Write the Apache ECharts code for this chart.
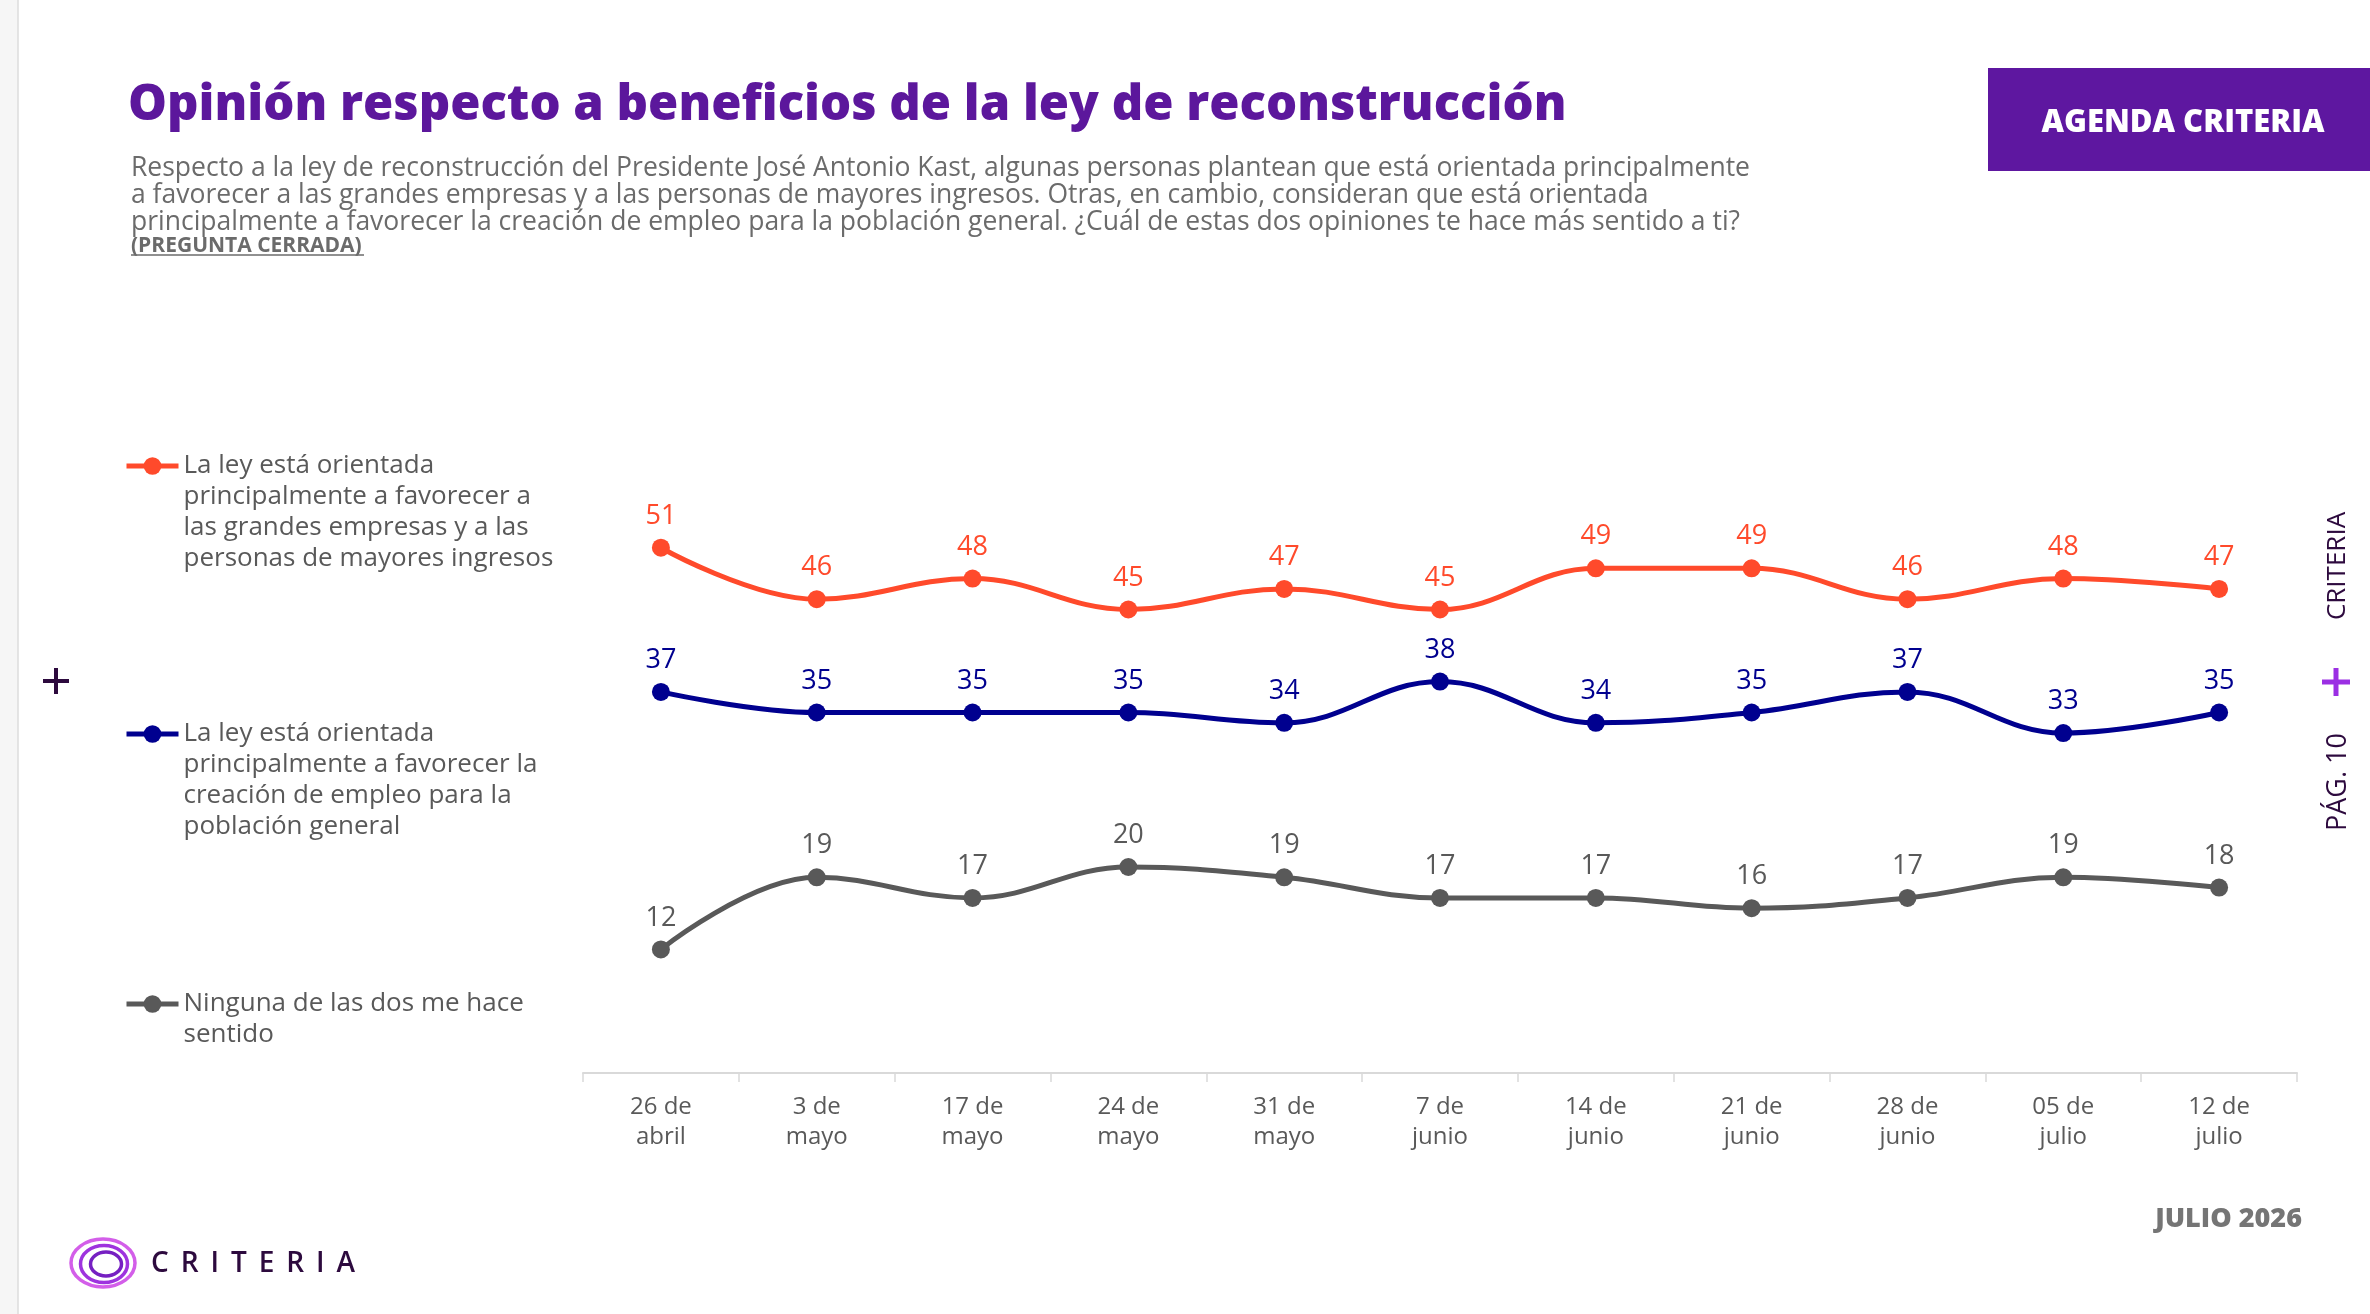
<!DOCTYPE html>
<html>
<head>
<meta charset="utf-8">
<script src="https://cdn.jsdelivr.net/npm/echarts@6/dist/echarts.min.js"></script>
<style>
  html, body { margin: 0; padding: 0; background: #fff; }
  #main { width: 2370px; height: 1314px; }
</style>
</head>
<body>
<div id="main"></div>
<script>
var categories = ['26 de\nabril', '3 de\nmayo', '17 de\nmayo', '24 de\nmayo', '31 de\nmayo', '7 de\njunio',
	'14 de\njunio', '21 de\njunio', '28 de\njunio', '05 de\njulio', '12 de\njulio'];
var empresas = [51, 46, 48, 45, 47, 45, 49, 49, 46, 48, 47];
var empleo = [37, 35, 35, 35, 34, 38, 34, 35, 37, 33, 35];
var ninguna = [12, 19, 17, 20, 19, 17, 17, 16, 17, 19, 18];

var nombres = [
	'La ley está orientada principalmente a favorecer a las grandes empresas y a las personas de mayores ingresos',
	'La ley está orientada principalmente a favorecer la creación de empleo para la población general',
	'Ninguna de las dos me hace sentido'
];
var nombresLegend = [
	'La ley está orientada\nprincipalmente a favorecer a\nlas grandes empresas y a las\npersonas de mayores ingresos',
	'La ley está orientada\nprincipalmente a favorecer la\ncreación de empleo para la\npoblación general',
	'Ninguna de las dos me hace\nsentido'
];
var colores = ['#ff4a2b', '#00008f', '#595959'];

var FONT = "'Open Sans', sans-serif";
var LH = 31;

var myChart = echarts.init(document.getElementById('main'));

// legend: one component per series; blank lines in front keep the icon on the first text line
function leyenda(i, iconY) {
	var n = nombresLegend[i].split('\n').length;
	var h = (2 * n - 1) * LH;
	var pre = new Array(n).join('\n');
	return {
		data: [nombres[i]],
		left: 124,
		top: iconY - h / 2,
		padding: 0,
		itemWidth: 52,
		itemHeight: 22,
		selectedMode: false,
		lineStyle: { width: 5 },
		formatter: function () { return pre + nombresLegend[i]; },
		textStyle: {
			fontFamily: FONT,
			fontSize: 26,
			color: '#595959',
			lineHeight: LH
		}
	};
}

function serie(i, data) {
	return {
		name: nombres[i],
		type: 'line',
		data: data,
		smooth: 0.4,
		symbol: 'circle',
		symbolSize: 18,
		showAllSymbol: true,
		color: colores[i],
		lineStyle: { width: 5, color: colores[i] },
		itemStyle: { color: colores[i] },
		label: {
			show: true,
			position: 'top',
			distance: 9,
			fontFamily: FONT,
			fontWeight: 500,
			fontSize: 27,
			color: colores[i]
		}
	};
}

var option = {
	backgroundColor: '#fff',
	animation: false,
	title: [
		{
			text: 'Opinión respecto a beneficios de la ley de reconstrucción',
			left: 128,
			top: 80,
			padding: 0,
			textStyle: {
				fontFamily: FONT,
				fontWeight: 800,
				fontSize: 49,
				lineHeight: 52,
				color: '#5c179c'
			}
		},
		{
			text: 'Respecto a la ley de reconstrucción del Presidente José Antonio Kast, algunas personas plantean que está orientada principalmente\n' +
				'a favorecer a las grandes empresas y a las personas de mayores ingresos. Otras, en cambio, consideran que está orientada\n' +
				'principalmente a favorecer la creación de empleo para la población general. ¿Cuál de estas dos opiniones te hace más sentido a ti?',
			left: 131,
			top: 155,
			padding: 0,
			textStyle: {
				fontFamily: FONT,
				fontWeight: 'normal',
				fontSize: 26.5,
				lineHeight: 27,
				color: '#6b6b6b'
			}
		},
		{
			text: '(PREGUNTA CERRADA)',
			left: 131,
			top: 235,
			padding: 0,
			textStyle: {
				fontFamily: FONT,
				fontWeight: 'bold',
				fontSize: 21,
				lineHeight: 22,
				color: '#6b6b6b'
			}
		}
	],
	legend: [leyenda(0, 466), leyenda(1, 734), leyenda(2, 1004)],
	grid: {
		left: 583,
		right: 73,
		top: 455,
		bottom: 241
	},
	xAxis: {
		type: 'category',
		data: categories,
		boundaryGap: true,
		axisLine: { lineStyle: { color: '#d9d9d9', width: 2 } },
		axisTick: { show: true, length: 9, lineStyle: { color: '#d9d9d9', width: 1.5 } },
		axisLabel: {
			fontFamily: FONT,
			fontSize: 24,
			lineHeight: 30,
			color: '#595959',
			margin: 19
		}
	},
	yAxis: {
		type: 'value',
		min: 0,
		max: 60,
		show: false,
		splitLine: { show: false }
	},
	series: [serie(0, empresas), serie(1, empleo), serie(2, ninguna)],
	graphic: [
		{ type: 'rect', shape: { x: 0, y: 0, width: 18, height: 1314 }, style: { fill: '#f6f6f6' } },
		{ type: 'line', shape: { x1: 18, y1: 0, x2: 18, y2: 1314 }, style: { stroke: '#dcdcdc', lineWidth: 1.5 } },
		{ type: 'line', shape: { x1: 131, y1: 255, x2: 364, y2: 255 }, style: { stroke: '#6b6b6b', lineWidth: 1.5 } },
		{ type: 'rect', shape: { x: 1988, y: 68, width: 382, height: 103 }, style: { fill: '#5e17a0' } },
		{
			type: 'text', x: 2183, y: 123,
			style: { text: 'AGENDA CRITERIA', fill: '#fff', font: "800 31px 'Open Sans', sans-serif", align: 'center', verticalAlign: 'middle' }
		},
		// left plus
		{ type: 'line', shape: { x1: 43, y1: 681, x2: 69, y2: 681 }, style: { stroke: '#2d0a3e', lineWidth: 4 } },
		{ type: 'line', shape: { x1: 56, y1: 668, x2: 56, y2: 694 }, style: { stroke: '#2d0a3e', lineWidth: 4 } },
		// right side
		{ type: 'line', shape: { x1: 2322, y1: 682, x2: 2350, y2: 682 }, style: { stroke: '#9b2fe3', lineWidth: 5 } },
		{ type: 'line', shape: { x1: 2336, y1: 668, x2: 2336, y2: 696 }, style: { stroke: '#9b2fe3', lineWidth: 5 } },
		{
			type: 'text', x: 2338, y: 566, rotation: Math.PI / 2,
			style: { text: 'CRITERIA', fill: '#2d0a3e', font: "26px 'Open Sans', sans-serif", align: 'center', verticalAlign: 'middle' }
		},
		{
			type: 'text', x: 2338, y: 782, rotation: Math.PI / 2,
			style: { text: 'PÁG. 10', fill: '#2d0a3e', font: "27px 'Open Sans', sans-serif", align: 'center', verticalAlign: 'middle' }
		},
		// logo
		{ type: 'ellipse', shape: { cx: 103, cy: 1263, rx: 32, ry: 24 }, style: { fill: 'none', stroke: '#d35ee9', lineWidth: 3.5 } },
		{ type: 'ellipse', shape: { cx: 104, cy: 1264, rx: 23.5, ry: 18.5 }, style: { fill: 'none', stroke: '#9e33de', lineWidth: 3.5 } },
		{ type: 'ellipse', shape: { cx: 106, cy: 1264, rx: 15.5, ry: 12 }, style: { fill: 'none', stroke: '#7620c2', lineWidth: 3.5 } },
		{
			type: 'text', x: 151, y: 1264,
			style: { text: 'C \u2009R \u2009I \u2009T \u2009E \u2009R \u2009I \u2009A', fill: '#2d0a3e', font: "600 28px 'Open Sans', sans-serif", align: 'left', verticalAlign: 'middle' }
		},
		{
			type: 'text', x: 2302, y: 1219,
			style: { text: 'JULIO 2026', fill: '#757575', font: "800 27px 'Open Sans', sans-serif", align: 'right', verticalAlign: 'middle' }
		}
	]
};

myChart.setOption(option);
</script>
</body>
</html>
